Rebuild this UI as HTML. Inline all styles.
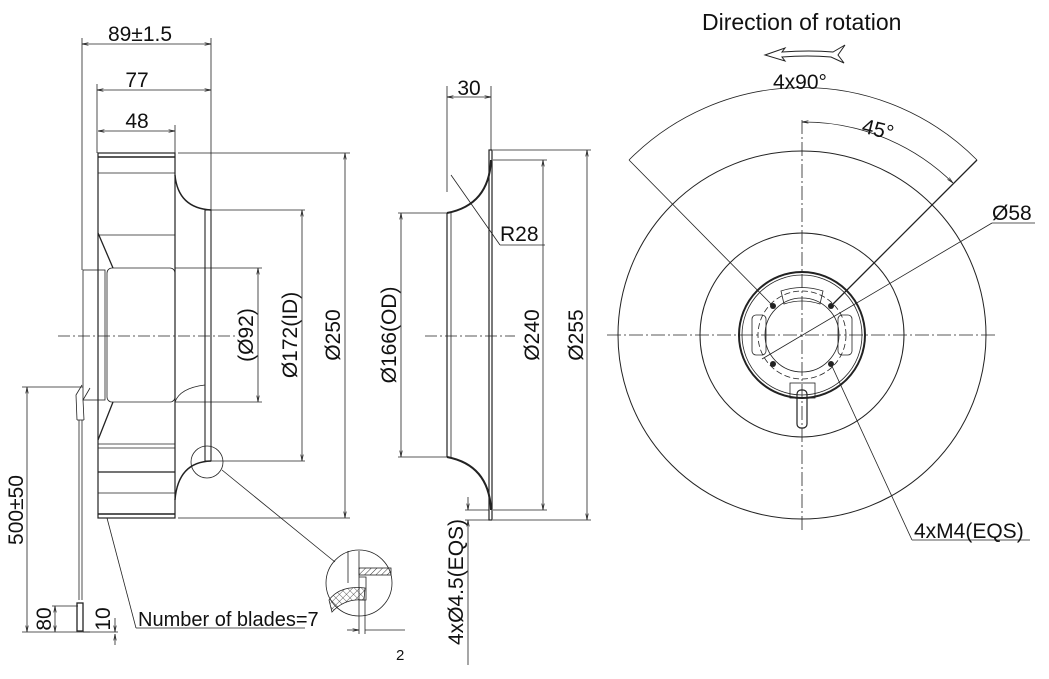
<!DOCTYPE html>
<html><head><meta charset="utf-8"><style>
html,body{margin:0;padding:0;background:#fff;}
svg{display:block;}
text{font-family:"Liberation Sans",sans-serif;fill:#111;}
</style></head><body>
<svg width="1049" height="679" viewBox="0 0 1049 679" xmlns="http://www.w3.org/2000/svg">
<defs>
<marker id="a" viewBox="0 0 10 10" refX="10" refY="5" markerWidth="8" markerHeight="8" orient="auto-start-reverse"><path d="M0,3 L10,5 L0,7" fill="none" stroke="#222" stroke-width="1"/></marker>
<pattern id="h" width="4" height="4" patternUnits="userSpaceOnUse" patternTransform="rotate(45)"><line x1="0" y1="0" x2="0" y2="4" stroke="#333" stroke-width="1"/></pattern>
<pattern id="x" width="5" height="5" patternUnits="userSpaceOnUse" patternTransform="rotate(45)"><path d="M0,0 V5 M0,0 H5" stroke="#333" stroke-width="0.8" fill="none"/></pattern>
</defs>
<g fill="none" stroke="#222" stroke-width="0.8">
<line x1="82" y1="38" x2="82" y2="270"/>
<line x1="211" y1="38" x2="211" y2="210"/>
<line x1="97" y1="84" x2="97" y2="153"/>
<line x1="175" y1="125" x2="175" y2="153"/>
<line x1="82" y1="44" x2="211" y2="44" marker-start="url(#a)" marker-end="url(#a)"/>
<line x1="97" y1="90" x2="211" y2="90" marker-start="url(#a)" marker-end="url(#a)"/>
<line x1="98" y1="131" x2="175" y2="131" marker-start="url(#a)" marker-end="url(#a)"/>
<rect x="98" y="153" width="77" height="365" stroke-width="1.2"/>
<line x1="98" y1="157" x2="175" y2="157" stroke-width="1.6"/>
<line x1="98" y1="173" x2="175" y2="173"/>
<line x1="98" y1="235" x2="175" y2="235"/>
<line x1="98" y1="233" x2="113" y2="268" stroke-width="1.3"/>
<line x1="98" y1="440" x2="113" y2="402" stroke-width="1.3"/>
<line x1="98" y1="444" x2="175" y2="444"/>
<line x1="98" y1="448" x2="175" y2="448"/>
<line x1="98" y1="472" x2="175" y2="472" stroke-width="1.2"/>
<line x1="98" y1="493" x2="175" y2="493"/>
<line x1="98" y1="514" x2="175" y2="514" stroke-width="1.6"/>
<path d="M175,175 Q178,208 211,210" stroke-width="1.4"/>
<path d="M175,500 Q178,462 211,461" stroke-width="1.4"/>
<rect x="205" y="210" width="6" height="251" stroke-width="1.1"/>
<rect x="83" y="270" width="22" height="130"/>
<rect x="107" y="268" width="68" height="134" rx="5"/>
<path d="M175,402 Q180,388 205,385"/>
<line x1="58" y1="336" x2="235" y2="336" stroke-dasharray="12,3,2,3"/>
<line x1="175" y1="268" x2="262" y2="268"/>
<line x1="175" y1="402" x2="262" y2="402"/>
<line x1="258" y1="268" x2="258" y2="402" marker-start="url(#a)" marker-end="url(#a)"/>
<line x1="211" y1="210" x2="305" y2="210"/>
<line x1="211" y1="461" x2="305" y2="461"/>
<line x1="302" y1="210" x2="302" y2="461" marker-start="url(#a)" marker-end="url(#a)"/>
<line x1="178" y1="153" x2="350" y2="153"/>
<line x1="178" y1="518" x2="350" y2="518"/>
<line x1="345" y1="153" x2="345" y2="518" marker-start="url(#a)" marker-end="url(#a)"/>
<circle cx="207" cy="462" r="16"/>
<line x1="222" y1="470" x2="335" y2="562"/>
<circle cx="359" cy="583" r="33"/>
<line x1="348" y1="551" x2="348" y2="583"/>
<line x1="359" y1="551" x2="359" y2="634"/>
<rect x="359" y="568" width="32" height="7" fill="url(#h)"/>
<path d="M359,577 H366 V600 H359"/>
<path d="M329,600 Q340,585 365,588 L364,600 Q345,598 332,612 Z" fill="url(#x)"/>
<line x1="365" y1="600" x2="365" y2="634"/>
<line x1="347" y1="630" x2="359" y2="630" marker-end="url(#a)"/>
<line x1="365" y1="630" x2="405" y2="630"/>
<path d="M82,385 L76,395 L77,420"/>
<path d="M90,388 L83,400 L84,420"/>
<path d="M77,420 L84,420"/>
<line x1="79" y1="420" x2="79" y2="600"/>
<line x1="82" y1="420" x2="82" y2="600"/>
<rect x="77" y="603" width="6" height="28" stroke-width="1.3"/>
<line x1="22" y1="387" x2="83" y2="387"/>
<line x1="22" y1="632" x2="90" y2="632"/>
<line x1="27" y1="387" x2="27" y2="632" marker-start="url(#a)" marker-end="url(#a)"/>
<line x1="52" y1="606" x2="78" y2="606"/>
<line x1="55" y1="606" x2="55" y2="632" marker-start="url(#a)" marker-end="url(#a)"/>
<line x1="83" y1="632" x2="118" y2="632"/>
<line x1="115" y1="618" x2="115" y2="632" marker-end="url(#a)"/>
<line x1="115" y1="645" x2="115" y2="634" marker-end="url(#a)"/>
<line x1="107" y1="518" x2="136" y2="628"/>
<line x1="136" y1="628" x2="305" y2="628"/>

<line x1="447" y1="86" x2="447" y2="192"/>
<line x1="491" y1="86" x2="491" y2="150"/>
<line x1="447" y1="97" x2="491" y2="97" marker-start="url(#a)" marker-end="url(#a)"/>
<rect x="489" y="150" width="3" height="370" stroke-width="1.2"/>
<path d="M491,160 Q489,205 447,213" stroke-width="2"/>
<path d="M491,510 Q489,465 447,457" stroke-width="2"/>
<line x1="447" y1="213" x2="447" y2="457" stroke-width="1.2"/>
<line x1="451" y1="213" x2="451" y2="457"/>
<line x1="425" y1="336" x2="515" y2="336" stroke-dasharray="12,3,2,3"/>
<line x1="398" y1="213" x2="447" y2="213"/>
<line x1="398" y1="457" x2="447" y2="457"/>
<line x1="401" y1="213" x2="401" y2="457" marker-start="url(#a)" marker-end="url(#a)"/>
<line x1="493" y1="160" x2="547" y2="160"/>
<line x1="493" y1="510" x2="547" y2="510"/>
<line x1="543" y1="160" x2="543" y2="510" marker-start="url(#a)" marker-end="url(#a)"/>
<line x1="493" y1="150" x2="591" y2="150"/>
<line x1="493" y1="520" x2="591" y2="520"/>
<line x1="587" y1="150" x2="587" y2="520" marker-start="url(#a)" marker-end="url(#a)"/>
<line x1="451" y1="175" x2="500" y2="245"/>
<line x1="500" y1="245" x2="545" y2="245"/>
<line x1="465" y1="510" x2="489" y2="510"/>
<line x1="465" y1="520" x2="489" y2="520"/>
<line x1="468" y1="497" x2="468" y2="510" marker-end="url(#a)"/>
<line x1="468" y1="665" x2="468" y2="520" marker-end="url(#a)"/>

<circle cx="802" cy="335" r="184" stroke-width="1"/>
<circle cx="802" cy="335" r="102" stroke-width="1"/>
<circle cx="802" cy="335" r="63" stroke-width="2"/>
<circle cx="802" cy="335" r="60"/>
<circle cx="802" cy="335" r="37"/>
<circle cx="802" cy="335" r="44" stroke-dasharray="6,3"/>
<line x1="607" y1="335" x2="998" y2="335" stroke-dasharray="14,3,2,3"/>
<line x1="802" y1="120" x2="802" y2="530" stroke-dasharray="14,3,2,3"/>
<path d="M629,160 A245,245 0 0 1 977,160"/>
<line x1="629" y1="160" x2="773" y2="306"/>
<line x1="977" y1="160" x2="831" y2="306" stroke-width="1.3"/>
<path d="M802,122 A213,213 0 0 1 953,183" marker-start="url(#a)" marker-end="url(#a)"/>
<line x1="762" y1="359" x2="992" y2="223"/>
<line x1="992" y1="223" x2="1035" y2="223"/>
<line x1="831" y1="364" x2="912" y2="540"/>
<line x1="912" y1="540" x2="1030" y2="540"/>
<path d="M781,291 Q802,284 823,291 L820,304 Q802,298 784,304 Z"/>
<rect x="752" y="315" width="14" height="40" rx="4"/>
<rect x="838" y="315" width="14" height="40" rx="4"/>
<rect x="790" y="383" width="25" height="15"/>
<rect x="797" y="390" width="10" height="38" rx="4" stroke-width="1.2"/>
</g>
<g fill="#222">
<circle cx="773" cy="306" r="3"/><circle cx="831" cy="306" r="3"/>
<circle cx="773" cy="364" r="3"/><circle cx="831" cy="364" r="3"/>
</g>
<path d="M765,55 L785,48 L782,52 Q810,50 833,52 L845,45 L838,55 L844,63 L831,57 Q808,55 782,57 L785,61 Z" fill="none" stroke="#222" stroke-width="1"/>

<g font-size="21">
<text x="140" y="41" text-anchor="middle">89±1.5</text>
<text x="137" y="87" text-anchor="middle">77</text>
<text x="137" y="128" text-anchor="middle">48</text>
<text transform="translate(253,335) rotate(-90)" text-anchor="middle">(Ø92)</text>
<text transform="translate(297,335) rotate(-90)" text-anchor="middle">Ø172(ID)</text>
<text transform="translate(340,335) rotate(-90)" text-anchor="middle">Ø250</text>
<text transform="translate(23,510) rotate(-90)" text-anchor="middle">500±50</text>
<text transform="translate(51,619) rotate(-90)" text-anchor="middle">80</text>
<text transform="translate(110,619) rotate(-90)" text-anchor="middle">10</text>
<text x="138" y="626" font-size="20">Number of blades=7</text>
<text x="396" y="660" font-size="15">2</text>
<text x="469" y="95" text-anchor="middle">30</text>
<text x="500" y="241">R28</text>
<text transform="translate(396,335) rotate(-90)" text-anchor="middle">Ø166(OD)</text>
<text transform="translate(539,335) rotate(-90)" text-anchor="middle">Ø240</text>
<text transform="translate(583,335) rotate(-90)" text-anchor="middle">Ø255</text>
<text transform="translate(463,582) rotate(-90)" text-anchor="middle">4xØ4.5(EQS)</text>
<text x="702" y="30" font-size="23">Direction of rotation</text>
<text x="773" y="89">4x90°</text>
<text x="862" y="137" transform="rotate(14,880,130)">45°</text>
<text x="992" y="220">Ø58</text>
<text x="914" y="538">4xM4(EQS)</text>
</g>
</svg>
</body></html>
